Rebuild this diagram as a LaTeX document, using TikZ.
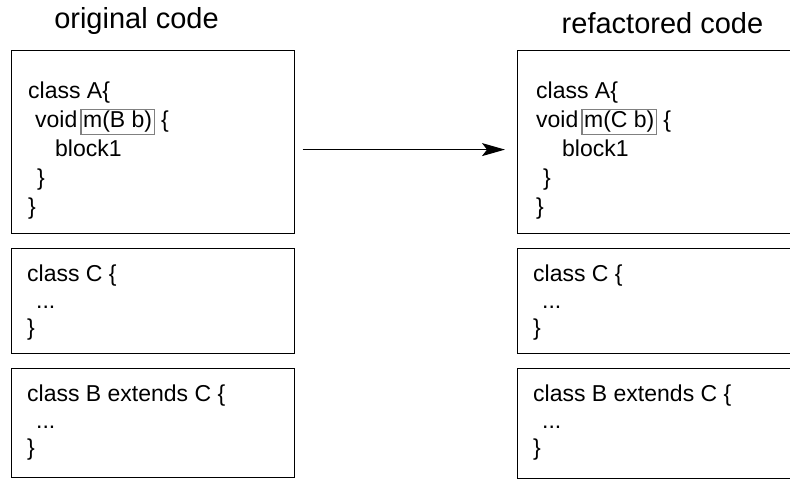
\documentclass[tikz,border=0pt]{standalone}
\usepackage{fontspec}
\setmainfont{Liberation Sans}
\usetikzlibrary{arrows.meta}
\newcommand{\hlsig}[1]{\hspace{3pt}{\setlength{\fboxsep}{1.5pt}\setlength{\fboxrule}{1.2pt}\fcolorbox{gray}{white}{#1}}}
\begin{document}
\begin{tikzpicture}[x=1pt,y=-1pt,
    box/.style={draw,line width=1.2pt,minimum width=283pt,anchor=north west,inner sep=0pt},
    code/.style={anchor=north west,inner sep=0pt,align=left,font=\fontsize{23}{26.7}\selectfont},
    codeA/.style={code,font=\fontsize{23}{29}\selectfont},
    title/.style={anchor=base,inner sep=0pt,font=\fontsize{29}{34}\selectfont},
    flow/.style={-{Stealth[length=23pt,width=13pt,inset=5pt]},line width=1.1pt}]
  \useasboundingbox (0,0) rectangle (790,479);
  \begin{scope}
    \clip (0,0) rectangle (790,479);
    \node[box,minimum height=183pt] (origA) at (11,50) {};
    \node[box,minimum height=105pt] (origC) at (11,248) {};
    \node[box,minimum height=109pt] (origB) at (11,368) {};
    \node[box,minimum height=183pt] (refA) at (517,50) {};
    \node[box,minimum height=105pt] (refC) at (517,248) {};
    \node[box,minimum height=110pt] (refB) at (517,368) {};
  \end{scope}
  \node[title] (origTitle) at (136.5,28) {original code};
  \node[title] (refTitle) at (662.5,33) {refactored code};
  \node[codeA] (origAcode) at ([shift={(17,32)}]origA.north west)
    {class A\{\\ \hspace*{7pt}void\hlsig{m(B b)} \{\\ \hspace*{27pt}block1\\ \hspace*{9pt}\}\\ \}};
  \node[code] (origCcode) at ([shift={(16,17)}]origC.north west)
    {class C \{\\ \hspace*{9pt}...\\ \}};
  \node[code] (origBcode) at ([shift={(16,17)}]origB.north west)
    {class B extends C \{\\ \hspace*{9pt}...\\ \}};
  \node[codeA] (refAcode) at ([shift={(19,32)}]refA.north west)
    {class A\{\\ void\hlsig{m(C b)} \{\\ \hspace*{26pt}block1\\ \hspace*{7pt}\}\\ \}};
  \node[code] (refCcode) at ([shift={(16,17)}]refC.north west)
    {class C \{\\ \hspace*{9pt}...\\ \}};
  \node[code] (refBcode) at ([shift={(16,17)}]refB.north west)
    {class B extends C \{\\ \hspace*{9pt}...\\ \}};
  \draw[flow] ([shift={(7.5,7.5)}]origA.east) -- ([shift={(-12,7.5)}]refA.west);
\end{tikzpicture}
\end{document}
